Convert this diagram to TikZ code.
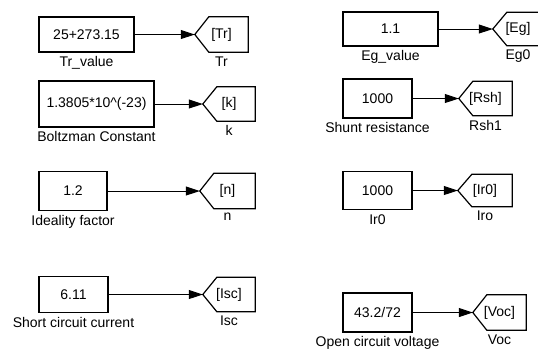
\documentclass[tikz,border=0pt]{standalone}
\usepackage{fontspec}
\setmainfont{Liberation Sans}
\usetikzlibrary{positioning, arrows.meta}

\tikzset{
    constblock/.style={draw, line width=1.2pt, inner sep=2pt},
    gotoblock/.style={inner sep=2pt, minimum width=53pt, minimum height=34pt},
    gotoline/.style={line width=1.2pt, line join=miter},
    blocklabel/.style={inner sep=1pt},
    sigline/.style={line width=1pt, -{Triangle[length=14pt,width=9pt]}},
}

\begin{document}
\begin{tikzpicture}[x=1pt, y=-1pt, font=\fontsize{14}{16}\selectfont]
    \useasboundingbox (0,0) rectangle (538,349);

    % left column
    \node[constblock, minimum width=95pt, minimum height=35pt] (trv) at (86.5,34.5) {25+273.15};
    \node[gotoblock, minimum height=35pt] (tr) at (221.5,34.5) {[Tr]};
    \node[blocklabel, below=3pt of trv] (trvlbl) {Tr\_value};
    \node[blocklabel, below=3pt of tr] (trlbl) {Tr};

    \node[constblock, minimum width=115pt, minimum height=46pt] (kv) at (96.5,104) {1.3805*10\^{}(-23)};
    \node[gotoblock, minimum width=52pt] (k) at (229,104) {[k]};
    \node[blocklabel, below=3pt of kv] (kvlbl) {Boltzman Constant};
    \node[blocklabel, below=3pt of k] (klbl) {k};

    \node[constblock, minimum width=68pt, minimum height=39pt] (nv) at (73,191) {1.2};
    \node[gotoblock, minimum width=55pt, minimum height=35pt] (n) at (227.5,191) {[n]};
    \node[blocklabel, below=3pt of nv] (nvlbl) {Ideality factor};
    \node[blocklabel, below=3pt of n] (nlbl) {n};

    \node[constblock, minimum width=69pt, minimum height=36pt] (iscv) at (73.5,294.5) {6.11};
    \node[gotoblock, minimum width=52pt] (isc) at (229,294.5) {[Isc]};
    \node[blocklabel, below=3pt of iscv] (iscvlbl) {Short circuit current};
    \node[blocklabel, below=3pt of isc] (isclbl) {Isc};

    % right column
    \node[constblock, minimum width=95pt, minimum height=34pt] (egv) at (390.5,29) {1.1};
    \node[gotoblock, minimum width=50pt, minimum height=33pt] (eg) at (518,29) {[Eg]};
    \node[blocklabel, below=3pt of egv] (egvlbl) {Eg\_value};
    \node[blocklabel, below=3pt of eg] (eglbl) {Eg0};

    \node[constblock, minimum width=69pt, minimum height=39pt] (rshv) at (377.5,98.5) {1000};
    \node[gotoblock] (rsh) at (485.5,98.5) {[Rsh]};
    \node[blocklabel, below=3pt of rshv] (rshvlbl) {Shunt resistance};
    \node[blocklabel, below=3pt of rsh] (rshlbl) {Rsh1};

    \node[constblock, minimum width=69pt, minimum height=38pt] (irv) at (377.5,190.5) {1000};
    \node[gotoblock, minimum width=54pt, minimum height=32pt] (ir) at (485,190.5) {[Ir0]};
    \node[blocklabel, below=3pt of irv] (irvlbl) {Ir0};
    \node[blocklabel, below=3pt of ir] (irlbl) {Iro};

    \node[constblock, minimum width=69pt, minimum height=39pt] (vocv) at (377.5,312.5) {43.2/72};
    \node[gotoblock, minimum height=35pt] (voc) at (499.5,312.5) {[Voc]};
    \node[blocklabel, below=3pt of vocv] (vocvlbl) {Open circuit voltage};
    \node[blocklabel, below=3pt of voc] (voclbl) {Voc};

    % goto tags, pointed at the west side
    \foreach \g in {tr,k,n,isc,eg,rsh,ir,voc}
      \draw[gotoline] (\g.north east) -- ([xshift=14pt]\g.north west) -- (\g.west)
        -- ([xshift=14pt]\g.south west) -- (\g.south east) -- cycle;

    % signals
    \draw[sigline] (trv) -- (tr);
    \draw[sigline] (kv) -- (k);
    \draw[sigline] (nv) -- (n);
    \draw[sigline] (iscv) -- (isc);
    \draw[sigline] (egv) -- (eg);
    \draw[sigline] (rshv) -- (rsh);
    \draw[sigline] (irv) -- (ir);
    \draw[sigline] (vocv) -- (voc);
\end{tikzpicture}
\end{document}
